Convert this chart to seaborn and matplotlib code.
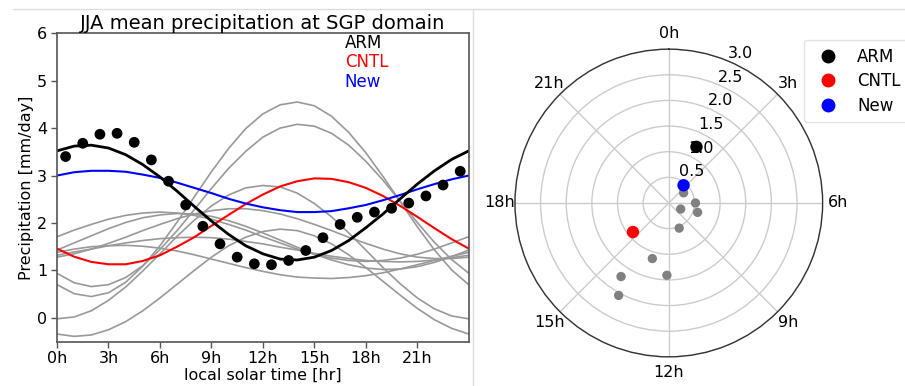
import numpy as np
import pandas as pd
import seaborn as sns
import matplotlib.pyplot as plt
from matplotlib.lines import Line2D

# hourly values (0h .. 24h)
hours = list(range(25))

arm_fit = [3.52, 3.62, 3.64, 3.58, 3.44, 3.23, 2.97, 2.67, 2.35, 2.04, 1.76, 1.52, 1.35,
           1.24, 1.22, 1.28, 1.42, 1.63, 1.90, 2.19, 2.51, 2.82, 3.10, 3.34, 3.52]
cntl = [1.46, 1.29, 1.18, 1.13, 1.13, 1.20, 1.32, 1.50, 1.70, 1.94, 2.17, 2.40, 2.60,
        2.77, 2.88, 2.94, 2.93, 2.86, 2.74, 2.57, 2.36, 2.13, 1.89, 1.66, 1.46]
new = [3.00, 3.07, 3.10, 3.10, 3.08, 3.02, 2.95, 2.85, 2.74, 2.63, 2.51, 2.41, 2.33,
       2.27, 2.23, 2.23, 2.25, 2.31, 2.38, 2.48, 2.59, 2.71, 2.82, 2.92, 3.00]

# other runs (grey)
run1 = [1.38, 1.45, 1.50, 1.52, 1.53, 1.51, 1.47, 1.41, 1.33, 1.24, 1.15, 1.06, 0.98,
        0.91, 0.86, 0.84, 0.83, 0.85, 0.89, 0.95, 1.03, 1.12, 1.21, 1.30, 1.38]
run2 = [1.71, 1.85, 1.97, 2.08, 2.16, 2.21, 2.23, 2.21, 2.16, 2.08, 1.97, 1.85, 1.71,
        1.58, 1.45, 1.34, 1.26, 1.21, 1.19, 1.21, 1.26, 1.34, 1.45, 1.58, 1.71]
run3 = [1.43, 1.58, 1.73, 1.88, 2.01, 2.11, 2.17, 2.20, 2.19, 2.14, 2.05, 1.93, 1.79,
        1.64, 1.49, 1.34, 1.22, 1.12, 1.05, 1.02, 1.03, 1.08, 1.17, 1.29, 1.43]
run4 = [1.32, 1.39, 1.45, 1.52, 1.58, 1.63, 1.67, 1.69, 1.70, 1.69, 1.66, 1.61, 1.56,
        1.49, 1.43, 1.36, 1.30, 1.25, 1.21, 1.19, 1.18, 1.19, 1.22, 1.27, 1.32]
run5 = [1.28, 1.35, 1.45, 1.57, 1.70, 1.84, 1.97, 2.09, 2.19, 2.26, 2.30, 2.30, 2.26,
        2.19, 2.09, 1.97, 1.84, 1.70, 1.57, 1.45, 1.35, 1.28, 1.25, 1.25, 1.28]
run6 = [-0.34, -0.39, -0.36, -0.25, -0.08, 0.15, 0.42, 0.71, 1.00, 1.28, 1.52, 1.70, 1.82,
        1.87, 1.84, 1.73, 1.56, 1.33, 1.06, 0.77, 0.48, 0.20, -0.04, -0.22, -0.34]
run7 = [-0.02, 0.02, 0.15, 0.37, 0.65, 0.99, 1.35, 1.72, 2.06, 2.36, 2.59, 2.74, 2.79,
        2.76, 2.63, 2.41, 2.13, 1.79, 1.43, 1.06, 0.72, 0.42, 0.19, 0.04, -0.02]
run8 = [0.94, 0.74, 0.66, 0.70, 0.85, 1.10, 1.44, 1.84, 2.28, 2.73, 3.15, 3.51, 3.81,
        4.00, 4.08, 4.04, 3.89, 3.64, 3.30, 2.90, 2.46, 2.01, 1.59, 1.23, 0.94]
run9 = [0.70, 0.51, 0.45, 0.53, 0.75, 1.09, 1.52, 2.02, 2.55, 3.08, 3.57, 3.99, 4.30,
        4.49, 4.55, 4.47, 4.25, 3.91, 3.48, 2.98, 2.45, 1.92, 1.43, 1.01, 0.70]

# ARM observations at half hours
obs_hours = [h + 0.5 for h in range(24)]
arm_obs = [3.40, 3.68, 3.87, 3.89, 3.70, 3.33, 2.88, 2.38, 1.93, 1.56, 1.28, 1.14,
           1.12, 1.21, 1.42, 1.69, 1.97, 2.12, 2.23, 2.31, 2.42, 2.57, 2.80, 3.09]

# diurnal amplitude [mm/day] and phase [h]
main_names = ["ARM", "CNTL", "New"]
main_colors = ["black", "red", "blue"]
main_amp = [1.22, 0.90, 0.45]
main_phase = [1.75, 15.4, 2.65]
run_amp = [0.35, 0.52, 0.59, 0.26, 0.53, 1.13, 1.41, 1.71, 2.05]
run_phase = [3.7, 6.0, 7.2, 7.8, 10.5, 13.1, 12.1, 14.2, 13.9]

sns.set_theme(style="white")
plt.rcParams['font.family'] = ['DejaVu Sans']
plt.rcParams['text.color'] = 'black'
plt.rcParams['axes.labelcolor'] = 'black'
plt.rcParams['xtick.color'] = 'black'
plt.rcParams['ytick.color'] = 'black'

fig = plt.figure(figsize=(9.05, 3.86), dpi=100)

# ---- left panel: diurnal cycle
ax = fig.add_axes([0.063, 0.115, 0.455, 0.799])
for run in [run1, run2, run3, run4, run5, run6, run7, run8, run9]:
    sns.lineplot(x=hours, y=run, ax=ax, color="#999999", lw=1.2)
sns.lineplot(x=hours, y=cntl, ax=ax, color="red", lw=1.5)
sns.lineplot(x=hours, y=new, ax=ax, color="blue", lw=1.5)
sns.lineplot(x=hours, y=arm_fit, ax=ax, color="black", lw=2)
sns.scatterplot(x=obs_hours, y=arm_obs, ax=ax, color="black", s=60, edgecolor="none", zorder=5)

ax.set_xlim(0, 24)
ax.set_ylim(-0.5, 6)
ax.set_xticks(range(0, 24, 3))
ax.set_xticklabels([f"{h}h" for h in range(0, 24, 3)])
ax.set_yticks(range(0, 7))
ax.tick_params(axis="both", labelsize=11.5, length=4, width=1, color="#555555",
               labelcolor="black", direction="out", bottom=True, left=True, pad=3)
for sp in ax.spines.values():
    sp.set_color("#555555")
    sp.set_linewidth(1.2)
ax.set_xlabel("local solar time [hr]", fontsize=11.5, labelpad=1)
ax.set_ylabel("Precipitation [mm/day]", fontsize=11.5, labelpad=2)
ax.set_title("JJA mean precipitation at SGP domain", fontsize=14, pad=3)

for i, (name, col) in enumerate(zip(main_names, main_colors)):
    ax.text(0.699, 0.951 - i * 0.062, name, color=col, fontsize=12,
            transform=ax.transAxes, va="baseline")

# ---- right panel: amplitude / phase
pax = fig.add_axes([0.569, 0.0751, 0.340, 0.798], projection="polar")
pax.set_theta_zero_location("N")
pax.set_theta_direction(-1)

run_df = pd.DataFrame({"theta": np.array(run_phase) / 24 * 2 * np.pi, "amp": run_amp})
main_df = pd.DataFrame({"theta": np.array(main_phase) / 24 * 2 * np.pi, "amp": main_amp,
                        "name": main_names})
sns.scatterplot(data=run_df, x="theta", y="amp", ax=pax, color="gray", s=45,
                edgecolor="none", zorder=3)
sns.scatterplot(data=main_df, x="theta", y="amp", hue="name", palette=main_colors,
                hue_order=main_names, ax=pax, s=80, edgecolor="none", zorder=4,
                legend=False)
pax.set_xlabel("")
pax.set_ylabel("")
pax.set_ylim(0, 3)
pax.set_yticks([0.5, 1.0, 1.5, 2.0, 2.5, 3.0])
pax.set_yticklabels(["0.5", "1.0", "1.5", "2.0", "2.5", "3.0"], fontsize=11.5)
pax.set_xticks(np.arange(8) * np.pi / 4)
pax.set_xticklabels([f"{h}h" for h in range(0, 24, 3)], fontsize=11.5)
pax.tick_params(axis="x", pad=-2)
pax.grid(True, color="#cccccc", lw=1)
pax.spines["polar"].set_color("#333333")
pax.spines["polar"].set_linewidth(1)

handles = [Line2D([], [], ls="", marker="o", color=c, markersize=9) for c in main_colors]
fig.legend(handles, main_names, loc="upper left", bbox_to_anchor=(0.888, 0.896),
           fontsize=12, frameon=True, edgecolor="#dddddd", handletextpad=0.75,
           borderpad=0.45, labelspacing=0.4, borderaxespad=0)

# screenshot frame lines
fig.add_artist(Line2D([13 / 905, 1], [1 - 9 / 386] * 2, transform=fig.transFigure,
                      color="#dddddd", lw=1))
fig.add_artist(Line2D([473 / 905] * 2, [0, 1 - 9 / 386], transform=fig.transFigure,
                      color="#dddddd", lw=1))

fig.savefig("out.png", dpi=100, facecolor="white")
